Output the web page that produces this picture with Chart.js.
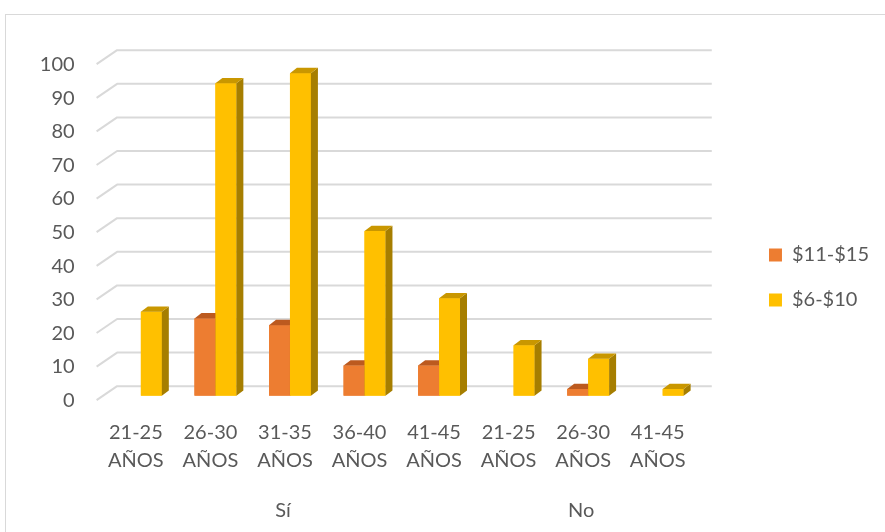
<!DOCTYPE html>
<html>
<head>
<meta charset="utf-8">
<script src="https://cdn.jsdelivr.net/npm/chart.js@4.4.1/dist/chart.umd.min.js"></script>
<style>
  html, body { margin: 0; padding: 0; background: #ffffff; }
  #wrap { width: 885px; height: 532px; }
</style>
</head>
<body>
<div id="wrap"><canvas id="chart" width="885" height="532"></canvas></div>
<script>
// Age bands, grouped by the Sí / No answer
const categories = [
  ['21-25', 'AÑOS'], ['26-30', 'AÑOS'], ['31-35', 'AÑOS'], ['36-40', 'AÑOS'], ['41-45', 'AÑOS'],
  ['21-25', 'AÑOS'], ['26-30', 'AÑOS'], ['41-45', 'AÑOS']
];
const groupLabels = ['', '', 'Sí', '', '', '', 'No', ''];

const seriesNames = ['$11-$15', '$6-$10'];
const values11to15 = [0, 23, 21, 9, 9, 0, 2, 0];
const values6to10 = [25, 93, 96, 49, 29, 15, 11, 2];

const yTicks = [0, 10, 20, 30, 40, 50, 60, 70, 80, 90, 100];

// Face colours for the extruded columns: front, top, side
const faces = [
  { front: '#ED7D31', top: '#BC5A1F', side: '#A04C18' },
  { front: '#FFC000', top: '#C99700', side: '#A67E00' }
];

const FONT = 'Lato, "Open Sans", sans-serif';
const TEXT = '#595959';
const GRID = '#D9D9D9';

// Depth of each column and of the floor / back wall
const BAR_DX = 7, BAR_DY = -5.3;
const FLOOR_FRONT = { dx: -7, dy: 4.5 };
const FLOOR_BACK = { dx: 13.5, dy: -9.5 };
const WALL_RIGHT_DX = 11.8;

const depthPlugin = {
  id: 'depthPlugin',
  beforeDraw(chart) {
    const ctx = chart.ctx;
    ctx.save();
    ctx.fillStyle = '#ffffff';
    ctx.fillRect(0, 0, chart.width, chart.height);
    ctx.strokeStyle = GRID;
    ctx.lineWidth = 1;
    ctx.strokeRect(5.5, 14.5, 1000, 1000);
    ctx.restore();
  },
  beforeDatasetsDraw(chart) {
    const { ctx, chartArea: a } = chart;
    const y = chart.scales.y;
    ctx.save();
    ctx.strokeStyle = GRID;
    ctx.lineWidth = 2;
    ctx.lineJoin = 'round';
    yTicks.forEach(v => {
      const py = y.getPixelForValue(v);
      ctx.beginPath();
      ctx.moveTo(a.left + FLOOR_FRONT.dx, py + FLOOR_FRONT.dy);
      ctx.lineTo(a.left + FLOOR_BACK.dx, py + FLOOR_BACK.dy);
      ctx.lineTo(a.right + WALL_RIGHT_DX, py + FLOOR_BACK.dy);
      ctx.stroke();
    });
    ctx.restore();
  },
  afterDatasetsDraw(chart) {
    const ctx = chart.ctx;
    const metas = chart.data.datasets.map((_, d) => chart.getDatasetMeta(d));
    ctx.save();
    for (let i = 0; i < categories.length; i++) {
      metas.forEach((meta, d) => {
        const value = chart.data.datasets[d].data[i];
        if (!value) return;
        const bar = meta.data[i];
        const { x, y, base, width } = bar.getProps(['x', 'y', 'base', 'width'], true);
        const l = x - width / 2, r = x + width / 2;
        const c = faces[d];
        // front
        ctx.fillStyle = c.front;
        ctx.fillRect(l, y, width, base - y);
        // side
        ctx.fillStyle = c.side;
        ctx.beginPath();
        ctx.moveTo(r, base);
        ctx.lineTo(r, y);
        ctx.lineTo(r + BAR_DX, y + BAR_DY);
        ctx.lineTo(r + BAR_DX, base + BAR_DY);
        ctx.closePath();
        ctx.fill();
        // top
        ctx.fillStyle = c.top;
        ctx.beginPath();
        ctx.moveTo(l, y);
        ctx.lineTo(r, y);
        ctx.lineTo(r + BAR_DX, y + BAR_DY);
        ctx.lineTo(l + BAR_DX, y + BAR_DY);
        ctx.closePath();
        ctx.fill();
      });
    }
    ctx.restore();
  }
};

new Chart(document.getElementById('chart'), {
  type: 'bar',
  data: {
    labels: categories,
    datasets: [
      { label: seriesNames[0], data: values11to15, backgroundColor: faces[0].front, borderWidth: 0 },
      { label: seriesNames[1], data: values6to10, backgroundColor: faces[1].front, borderWidth: 0 }
    ]
  },
  options: {
    responsive: false,
    animation: false,
    layout: { padding: { top: 23, right: 6, bottom: 0, left: 0 } },
    datasets: { bar: { categoryPercentage: 0.562, barPercentage: 1.0 } },
    plugins: {
      tooltip: { enabled: false },
      legend: {
        position: 'right',
        align: 'center',
        labels: {
          boxWidth: 13,
          boxHeight: 13,
          padding: 25,
          color: TEXT,
          font: { family: FONT, size: 20 }
        }
      }
    },
    scales: {
      x: {
        position: 'bottom',
        weight: 0,
        grid: { display: false },
        border: { display: false },
        ticks: {
          color: TEXT,
          font: { family: FONT, size: 20, lineHeight: 1.4 },
          padding: 14.6,
          labelOffset: -5,
          maxRotation: 0,
          autoSkip: false
        },
        afterFit: s => { s.height = 90; }
      },
      group: {
        type: 'category',
        position: 'bottom',
        weight: 1,
        labels: groupLabels,
        offset: true,
        grid: { display: false },
        border: { display: false },
        ticks: {
          color: TEXT,
          font: { family: FONT, size: 20, lineHeight: 1.4 },
          padding: 3,
          labelOffset: -7,
          maxRotation: 0,
          autoSkip: false
        },
        afterFit: s => { s.height = 46.3; }
      },
      top: {
        type: 'linear',
        position: 'top',
        grid: { display: false },
        border: { display: false },
        ticks: { display: false },
        afterFit: s => { s.height = 36.7; }
      },
      y: {
        position: 'left',
        min: 0,
        max: 100,
        afterBuildTicks: s => { s.ticks = yTicks.map(v => ({ value: v })); },
        grid: { display: false },
        border: { display: false },
        ticks: {
          color: TEXT,
          font: { family: FONT, size: 20 },
          padding: 21,
          labelOffset: 4.8
        },
        afterFit: s => { s.width = 103.6; }
      },
      side: {
        type: 'linear',
        position: 'right',
        grid: { display: false },
        border: { display: false },
        ticks: { display: false },
        afterFit: s => { s.width = 44; }
      }
    }
  },
  plugins: [depthPlugin]
});
</script>
</body>
</html>
